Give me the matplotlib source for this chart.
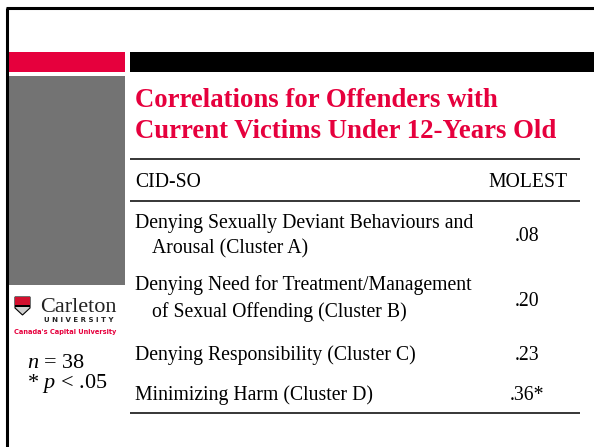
import matplotlib
matplotlib.use("Agg")
import matplotlib.pyplot as plt
from matplotlib.patches import Rectangle, Polygon

plt.rcParams["mathtext.fontset"] = "custom"
plt.rcParams["mathtext.rm"] = "Liberation Serif"
plt.rcParams["mathtext.it"] = "Liberation Serif:italic"

# ---- data ----
title_lines = ["Correlations for Offenders with", "Current Victims Under 12-Years Old"]
header = ["CID-SO", "MOLEST"]
categories = [
    ["Denying Sexually Deviant Behaviours and", "Arousal (Cluster A)"],
    ["Denying Need for Treatment/Management", "of Sexual Offending (Cluster B)"],
    ["Denying Responsibility (Cluster C)"],
    ["Minimizing Harm (Cluster D)"],
]
values = [0.08, 0.20, 0.23, 0.36]
significant = [False, False, False, True]
n_value = 38
p_value = ".05"

RED = "#E6003D"
SERIF = ["Liberation Serif", "DejaVu Serif"]

W, H = 594, 447
fig = plt.figure(figsize=(W / 100, H / 100), dpi=100)
ax = fig.add_axes([0, 0, 1, 1])
ax.set_xlim(0, W)
ax.set_ylim(H, 0)
ax.axis("off")

# frame lines
ax.plot([6, W], [8, 8], color="black", lw=2.2, solid_capstyle="butt")
ax.plot([7, 7], [8, H], color="black", lw=2.2, solid_capstyle="butt")

# bars
ax.add_patch(Rectangle((7, 52), 118, 20, color=RED, lw=0))
ax.add_patch(Rectangle((130, 52), W - 130, 20, color="black", lw=0))
ax.add_patch(Rectangle((8, 76), 117, 209, color="#737373", lw=0))

# title
for i, line in enumerate(title_lines):
    ax.text(135, 107 + 31 * i, line, color=RED, fontsize=19.3, fontweight="bold",
            family=SERIF, va="baseline", ha="left")

# rules
for y in (159, 201, 413):
    ax.plot([130, 580], [y, y], color="black", lw=1.1, solid_capstyle="butt")

fs = 14.2
ax.text(135, 187, header[0], fontsize=fs, family=SERIF, va="baseline", ha="left")
ax.text(568, 187, header[1], fontsize=fs, family=SERIF, va="baseline", ha="right")

row_base = [228, 290, 360, 400]
line_step = [25, 27, 0, 0]
val_base = [241, 306, 360, 400]
for lines, v, sig, yb, st, vb in zip(categories, values, significant, row_base, line_step, val_base):
    for j, ln in enumerate(lines):
        x = 135 if j == 0 else 152
        ax.text(x, yb + st * j, ln, fontsize=fs, family=SERIF, va="baseline", ha="left")
    label = f"{v:.2f}".lstrip("0") + ("*" if sig else "")
    ax.text(527, vb, label, fontsize=fs, family=SERIF, va="baseline", ha="center")

# left notes
ax.text(27, 368, f"$n$ = {n_value}", fontsize=16, family=SERIF, va="baseline", ha="left")
ax.text(27, 388, f"* $p$ < {p_value}", fontsize=16, family=SERIF, va="baseline", ha="left")

# Carleton logo (approximation)
shield = Polygon([[15, 297], [30, 297], [30, 308], [22.5, 315], [15, 308]], closed=True,
                 facecolor="#D0D0D0", edgecolor="black", lw=0.8)
ax.add_patch(shield)
ax.add_patch(Rectangle((15, 297), 15, 8, color="#D2102E", lw=0))
ax.add_patch(Rectangle((15, 304.5), 15, 2.2, color="black", lw=0))
ax.text(40, 312, "Carleton", fontsize=16, family=SERIF, va="baseline", ha="left", color="#222222")
ax.text(79, 320, "U N I V E R S I T Y", fontsize=5, fontweight="bold",
        family=["DejaVu Sans"], va="center", ha="center", color="#222222")
ax.text(65, 332, "Canada's Capital University", fontsize=4.8, fontweight="bold",
        family=["DejaVu Sans"], va="center", ha="center", color=RED)

fig.savefig("out.png", dpi=100)
